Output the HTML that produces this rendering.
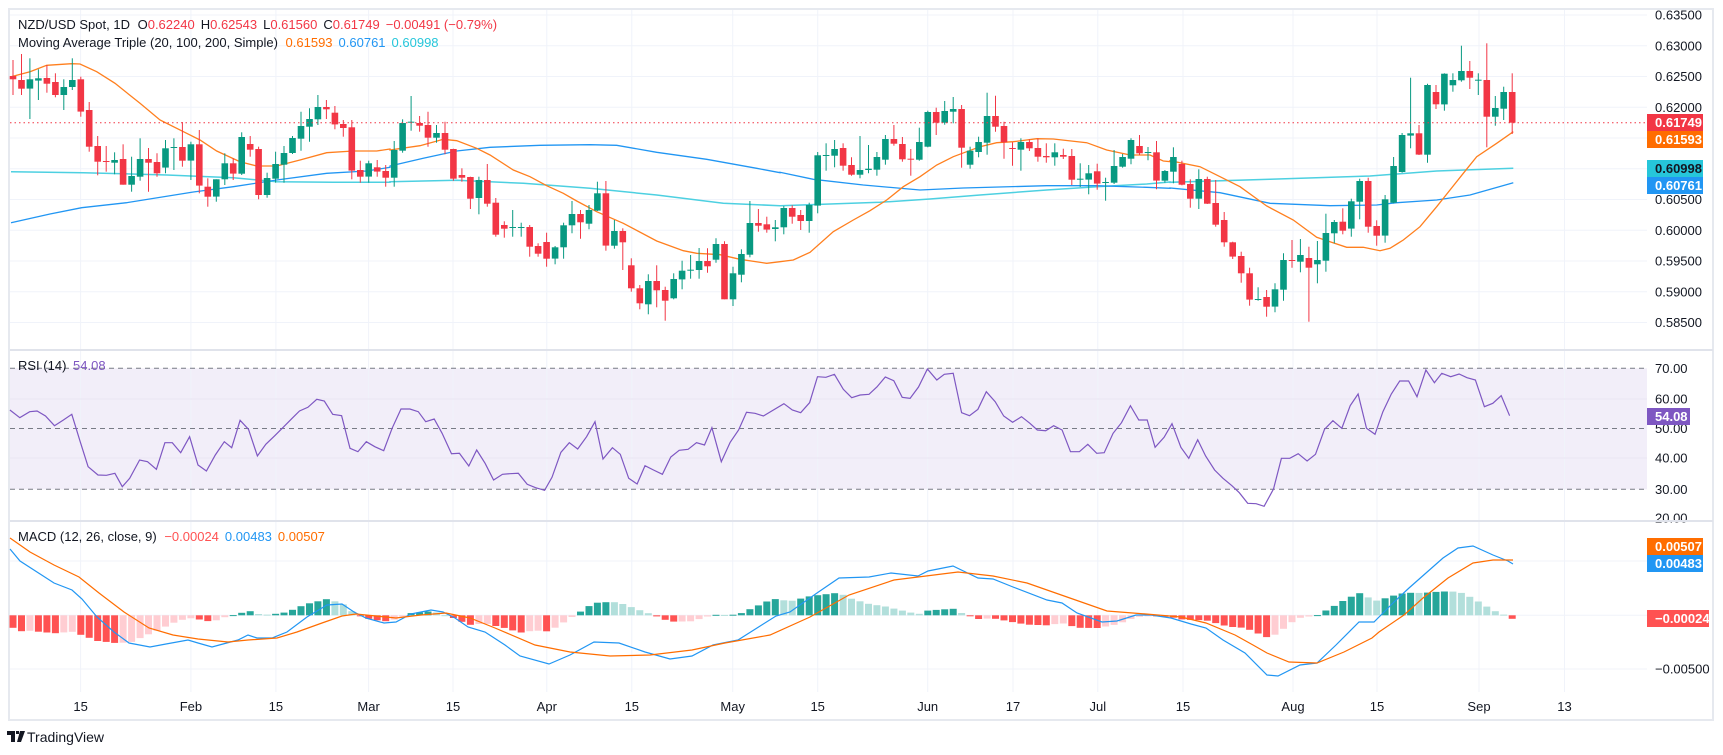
<!DOCTYPE html>
<html><head><meta charset="utf-8"><style>
html,body{margin:0;padding:0;background:#fff;width:1723px;height:755px;overflow:hidden}
svg{display:block;font-family:"Liberation Sans",sans-serif}
</style></head><body>
<svg id="s" width="1723" height="755" viewBox="0 0 1723 755" xmlns="http://www.w3.org/2000/svg"></svg>
<script>
var S=document.getElementById('s'),out=[];
function P(s){out.push(s);}
function X(i){return 13+8.47*i;}
function ZY(z){return 40+z/3;}
// frame
P('<rect x="9" y="9" width="1704" height="711" fill="#fff" stroke="#e6e9ef" stroke-width="2"/>');
// RSI band
P('<rect x="10" y="368.3" width="1637" height="121" fill="rgba(126,87,194,0.1)"/>');
// grids
var vg=[80.6,190.9,275.9,368.6,453,546.8,631.8,732.7,817.7,927.7,1013,1097.8,1183,1293,1377,1479,1564.5];
vg.forEach(function(x){P('<line x1="'+x+'" y1="10" x2="'+x+'" y2="692" stroke="#f0f3fa"/>');});
var pl=['0.63500','0.63000','0.62500','0.62000','0.61500','0.61000','0.60500','0.60000','0.59500','0.59000','0.58500'];
pl.forEach(function(t,k){var y=15+k*30.75;P('<line x1="10" y1="'+y+'" x2="1647" y2="'+y+'" stroke="#f0f3fa"/>');
 if(k!=4&&k!=5)P('<text x="1655" y="'+(y+4.5)+'" font-size="13" fill="#131722">'+t+'</text>');});
[399,458].forEach(function(y){P('<line x1="10" y1="'+y+'" x2="1647" y2="'+y+'" stroke="#e9e5f3"/>');});
[[368.3,'70.00'],[399,'60.00'],[428.5,'50.00'],[458,'40.00'],[489.3,'30.00'],[518,'20.00']].forEach(function(a){P('<text x="1655" y="'+(a[0]+4.5)+'" font-size="13" fill="#131722">'+a[1]+'</text>');});
[368.3,428.5,489.3].forEach(function(y){P('<line x1="10" y1="'+y+'" x2="1647" y2="'+y+'" stroke="#787b86" stroke-dasharray="5,4"/>');});
[561,615.3,669].forEach(function(y){P('<line x1="10" y1="'+y+'" x2="1647" y2="'+y+'" stroke="#f0f3fa"/>');});
P('<text x="1655" y="673.5" font-size="13" fill="#131722">−0.00500</text>');
// separators
P('<rect x="10" y="349" width="1703" height="2" fill="#e0e3eb"/><rect x="10" y="520" width="1703" height="2" fill="#e0e3eb"/>');
// time labels
var tl=['15','Feb','15','Mar','15','Apr','15','May','15','Jun','17','Jul','15','Aug','15','Sep','13'];
tl.forEach(function(t,k){P('<text x="'+vg[k]+'" y="711" font-size="13" fill="#131722" text-anchor="middle">'+t+'</text>');});
// MAs
function ml(segs,col,w){var pts=[];segs.forEach(function(sg){var off=sg[0];sg[1].forEach(function(p){var x=off+p[0]/3;if(x>=10)pts.push(x.toFixed(1)+','+ZY(p[1]).toFixed(1));});});
 P('<polyline points="'+pts.join(' ')+'" fill="none" stroke="'+col+'" stroke-width="'+w+'"/>');}
ml([[0,[[33,395],[250,398],[500,405],[700,413],[830,425],[1000,427],[1170,427]]],[390,[[0,425],[200,421],[400,430],[600,445],[800,465],[1000,490],[1170,497]]],[780,[[0,497],[150,492],[300,487],[450,477],[600,465],[800,450],[950,440],[1100,432],[1170,426]]],[1170,[[0,427],[300,418],[600,408],[800,393],[1030,385]]]],'#4dd0e1',1.5);
ml([[0,[[33,548],[150,522],[245,503],[380,488],[580,456],[700,440],[830,420],[980,400],[1100,393],[1170,382]]],[390,[[0,378],[100,355],[200,333],[300,322],[450,316],[600,314],[680,316],[800,337],[950,358],[1100,385],[1170,398]]],[780,[[0,397],[100,418],[250,435],[420,450],[550,444],[800,437],[950,437],[1100,442],[1170,445]]],[1170,[[0,444],[150,458],[300,490],[480,497],[620,495],[680,488],[800,480],[900,465],[1030,428]]]],'#2196f3',1.3);
ml([[0,[[33,110],[90,95],[140,76],[215,71],[240,72],[290,95],[345,130],[420,190],[480,240],[560,280],[600,300],[650,333],[720,365],[770,378],[830,378],[900,360],[980,338],[1060,333],[1130,333],[1170,327]]],[390,[[0,330],[90,317],[160,298],[200,302],[260,325],[300,345],[370,390],[420,410],[470,437],[520,460],[560,483],[620,515],[700,550],[800,603],[880,632],[920,640],[990,644],[1050,658],[1130,670],[1170,665]]],[780,[[0,665],[40,660],[90,637],[160,575],[220,540],[270,512],[320,480],[370,440],[420,410],[470,375],[520,350],[560,335],[600,320],[650,308],[700,305],[770,296],[820,297],[920,308],[980,330],[1050,345],[1110,345],[1150,363],[1170,365]]],[1170,[[0,362],[90,380],[160,415],[210,440],[290,498],[370,540],[440,592],[480,605],[530,622],[580,622],[630,632],[660,625],[700,600],[750,560],[800,500],[840,450],[880,400],[920,350],[980,310],[1030,275]]]],'#ff7f1e',1.3);
// candles
var C=[[108,118,60,165],[120,146,42,165],[146,118,55,237],[122,115,88,180],[114,131,75,158],[126,165,100,172],[165,141,118,210],[141,120,55,150],[118,215,110,230],[210,320,186,335],
[318,365,288,406],[363,366,318,395],[368,360,337,403],[357,434,313,434],[434,408,350,455],[410,357,295,422],[357,368,324,455],[366,400,340,410],[383,325,300,400],[323,321,295,390],
[321,362,246,380],[362,313,305,420],[313,437,270,460],[440,470,415,500],[470,418,418,485],[418,370,340,435],[370,401,355,420],[401,291,277,405],[312,329,288,350],[327,465,320,478],
[465,414,398,473],[416,372,335,428],[374,339,318,428],[339,294,288,342],[296,258,215,332],[260,237,205,305],[238,201,165,255],[201,208,180,237],[218,253,198,268],[252,264,240,290],
[262,392,240,418],[390,410,362,428],[410,370,362,428],[382,395,360,410],[393,413,375,440],[413,330,303,440],
[332,249,238,338],[247,245,168,272],[249,257,228,275],[255,293,215,320],[293,279,255,308],[279,329,245,343],[327,416,326,422],[405,413,385,425],[411,476,410,507],[474,420,410,523],
[420,491,372,500],[488,584,474,590],[555,566,544,593],[563,561,510,590],[563,561,548,590],[561,620,555,650],[618,641,610,650],[606,656,578,680],[656,622,618,673],[622,556,548,656],
[556,522,483,580],[522,547,510,596],[551,510,495,568],[512,460,425,513],[460,617,423,632],[617,573,540,626],[573,607,565,690],[676,745,655,755],[745,790,735,808],[793,723,703,823],
[723,751,676,802],[750,782,740,842],[775,717,700,778],[718,692,662,748],[692,689,645,716],[690,663,624,716],[663,679,625,698],[659,612,595,668],[612,778,604,778],[778,700,680,798],
[704,642,628,727],[644,549,483,652],[549,557,507,575],[553,569,530,578],[567,562,540,604],[562,504,498,583],
[504,530,496,551],[525,543,510,570],[543,495,488,578],[497,346,336,520],[347,345,310,392],[347,327,300,382],[324,377,310,392],[375,404,352,407],[404,390,288,415],[390,386,315,400],
[389,351,336,407],[359,297,285,374],[297,311,255,317],[312,358,291,365],[356,358,327,407],[359,306,263,362],[320,216,212,322],[216,248,203,285],[248,213,183,254],[215,207,171,250],
[207,323,195,383],[374,332,320,386],[336,306,290,352],[308,228,158,344],[228,260,167,275],[258,307,245,356],[324,326,307,377],[329,306,295,392],[306,325,298,333],[324,350,295,365],
[348,352,310,368],[352,337,310,377],[345,350,326,357],[348,419,327,435],[418,416,370,441],[419,400,375,463],[394,431,371,449],[428,426,413,482],[428,378,330,432],[380,351,342,383],
[356,300,295,373],[318,340,285,345],[338,336,321,361],[337,422,303,448],[422,393,390,428],[395,351,322,430],
[372,434,362,436],[432,476,418,503],[476,417,388,507],[417,491,410,492],[489,554,420,560],[540,607,516,620],[607,650,605,657],[648,700,635,728],[700,779,683,797],[779,777,742,782],
[771,800,750,830],[800,748,730,817],[749,660,640,782],[660,662,600,683],[665,645,597,697],[654,683,620,845],[673,660,603,730],[662,579,521,695],[580,546,540,610],[545,572,505,583],
[566,484,476,590],[485,423,416,538],[423,560,413,578],[558,587,541,617],[587,478,465,608],[488,378,351,490],[396,285,279,398],[287,280,113,325],[280,344,255,345],[344,135,131,368],
[156,193,135,207],[193,101,100,212],[136,120,100,155],[121,93,17,125],[93,113,63,147],[121,119,100,165],[120,230,10,322],[230,204,168,257],[206,156,140,240],[156,248,100,282]];
C.forEach(function(c,i){var x=X(i),col=c[1]<c[0]?'#089981':'#f23645';
 var t=ZY(Math.min(c[0],c[1])),b=ZY(Math.max(c[0],c[1]));if(b-t<1)b=t+1;
 P('<line x1="'+x.toFixed(1)+'" y1="'+ZY(c[2]).toFixed(1)+'" x2="'+x.toFixed(1)+'" y2="'+ZY(c[3]).toFixed(1)+'" stroke="'+col+'" stroke-width="1"/>');
 P('<rect x="'+(x-3.3).toFixed(1)+'" y="'+t.toFixed(1)+'" width="6.6" height="'+(b-t).toFixed(1)+'" fill="'+col+'"/>');});
P('<line x1="10" y1="122.7" x2="1647" y2="122.7" stroke="#f23645" stroke-dasharray="1.5,3"/>');
// RSI
var R1=[[20,195],[40,218],[60,200],[75,198],[92,213],[110,242],[128,225],[145,208],[162,290],[178,365],[198,390],[215,391],[232,385],[247,425],[262,400],[282,345],[298,350],[316,373],[333,293],[348,293],[365,323],[383,275],[400,360],[417,378],[435,330],[453,290],[468,308],[485,226],[502,253],[520,333],[537,298],[555,272],[572,247],[590,220],[605,198],[622,187],[640,163],[655,168],[672,208],[690,212],[707,310],[723,320],[740,290],[757,305],[775,317],[792,250],[810,192],[828,192],[845,200],[860,230],[877,222],[893,265],[912,326],[928,325],[947,363],[963,315],[980,355],[997,405],[1015,388],[1030,386],[1047,385],[1065,418],[1082,428],[1100,436],[1115,397],[1133,322],[1150,293],[1167,312],[1185,275],[1202,230],[1218,342],[1237,308],[1253,328],[1270,400],[1287,417],[1303,362],[1320,375],[1338,388],[1355,336],[1372,316],[1390,313],[1407,293],[1423,300],[1438,248],[1457,350],[1475,292],[1492,255],[1508,202],[1525,205],[1542,213]];
var R2=[[28,176],[45,195],[62,203],[80,173],[96,95],[113,97],[130,88],[148,133],[165,158],[182,150],[200,148],[216,126],[233,96],[250,107],[267,157],[283,160],[300,126],[318,72],[337,105],[352,88],[370,85],[387,203],[403,212],[420,193],[437,140],[455,170],[472,213],[490,232],[508,215],[525,235],[540,255],[557,257],[573,242],[590,255],[607,320],[625,320],[642,298],[660,325],[675,323],[693,265],[710,233],[728,182],[745,225],[762,225],[778,307],[796,277],[812,236],[830,307],[846,340],[864,284],[880,333],[898,375],[915,400],[933,422],[948,443],[965,475],[982,476],[998,484],[1017,432],[1033,340],[1050,340],[1067,326],[1085,348],[1102,328],[1120,253],[1137,227],[1155,250],[1172,182],[1188,147],[1205,250],[1222,268],[1238,200],[1255,147],[1272,108],[1290,108],[1307,155],[1325,75],[1342,113],[1357,85],[1375,95],[1392,87],[1408,98],[1425,105],[1443,185],[1460,175],[1477,152],[1494,212]];
var rp=[];R1.forEach(function(p){rp.push((p[0]/2.02).toFixed(1)+','+(345+p[1]/3).toFixed(1));});
R2.forEach(function(p){rp.push((770+p[0]/2.02).toFixed(1)+','+(345+p[1]/3).toFixed(1));});
P('<polyline points="'+rp.join(' ')+'" fill="none" stroke="#7e57c2" stroke-width="1.2"/>');
// MACD
var B=[[10,549],[20,561],[37,572],[54,583],[72,590],[82,599],[97,617],[114,632],[129,643],[150,647],[166,644],[188,640],[198,643],[212,647],[223,644],[238,640],[248,635],[257,638],[272,638],[287,632],[307,617],[327,605],[342,604],[354,612],[366,618],[384,623],[396,622],[411,614],[431,610],[443,612],[455,618],[468,627],[485,632],[505,645],[520,656],[549,664],[570,655],[594,642],[619,643],[645,652],[670,659],[692,656],[713,645],[738,640],[757,628],[776,616],[790,612],[817,593],[839,578],[869,577],[891,573],[918,576],[928,571],[953,566],[978,578],[993,579],[1013,587],[1047,600],[1062,603],[1077,613],[1102,622],[1117,621],[1136,615],[1151,615],[1171,618],[1191,624],[1206,628],[1223,640],[1245,653],[1267,675],[1278,676],[1300,665],[1317,663],[1336,645],[1359,622],[1374,622],[1394,602],[1409,588],[1426,573],[1443,558],[1458,548],[1473,546],[1493,555],[1508,561],[1513,564]];
var O=[[10,538],[30,552],[54,565],[79,577],[99,593],[124,612],[149,628],[173,635],[198,639],[228,642],[248,640],[277,638],[297,632],[322,623],[342,616],[356,614],[376,616],[396,618],[421,615],[446,613],[470,618],[495,628],[535,645],[570,652],[610,656],[650,655],[692,650],[725,643],[770,635],[810,617],[849,595],[894,580],[918,577],[958,572],[993,576],[1027,583],[1067,597],[1107,611],[1146,614],[1181,617],[1206,623],[1235,635],[1253,645],[1267,653],[1289,662],[1317,663],[1344,652],[1372,638],[1379,632],[1404,615],[1423,598],[1448,578],[1473,563],[1493,560],[1513,560]];
function itp(A,x){if(x<=A[0][0])return A[0][1];for(var k=1;k<A.length;k++){if(x<=A[k][0]){var a=A[k-1],b=A[k];return a[1]+(b[1]-a[1])*(x-a[0])/(b[0]-a[0]);}}return A[A.length-1][1];}
var prev=null;
for(var i=0;i<178;i++){var x=X(i);var h=itp(O,x)-itp(B,x);// positive = macd above signal (pixels)
 var col;if(h>=0)col=(prev!==null&&h<prev)?'#b2dfdb':'#26a69a';else col=(prev!==null&&h>prev)?'#ffcdd2':'#ff5252';
 prev=h;var y0=615.3,y1=615.3-h;var t=Math.min(y0,y1),hh=Math.max(Math.abs(h),1);
 P('<rect x="'+(x-3.5).toFixed(1)+'" y="'+t.toFixed(1)+'" width="7" height="'+hh.toFixed(1)+'" fill="'+col+'"/>');}
function pts(A){return A.map(function(p){return p[0]+','+p[1];}).join(' ');}
P('<polyline points="'+pts(B)+'" fill="none" stroke="#2196f3" stroke-width="1.2"/>');
P('<polyline points="'+pts(O)+'" fill="none" stroke="#ff6d00" stroke-width="1.2"/>');
// legends
P('<text x="18" y="29" font-size="13" fill="#131722">NZD/USD Spot, 1D <tspan dx="4">O</tspan><tspan fill="#f23645">0.62240</tspan><tspan dx="6">H</tspan><tspan fill="#f23645">0.62543</tspan><tspan dx="6">L</tspan><tspan fill="#f23645">0.61560</tspan><tspan dx="6">C</tspan><tspan fill="#f23645">0.61749</tspan><tspan dx="6" fill="#f23645">−0.00491 (−0.79%)</tspan></text>');
P('<text x="18" y="47" font-size="13" fill="#131722">Moving Average Triple (20, 100, 200, Simple) <tspan dx="4" fill="#ff6d00">0.61593</tspan><tspan dx="6" fill="#2196f3">0.60761</tspan><tspan dx="6" fill="#26c6da">0.60998</tspan></text>');
P('<text x="18" y="370" font-size="13" fill="#131722">RSI (14) <tspan dx="3" fill="#7e57c2">54.08</tspan></text>');
P('<text x="18" y="541" font-size="13" fill="#131722">MACD (12, 26, close, 9) <tspan dx="4" fill="#ff5252">−0.00024</tspan><tspan dx="6" fill="#2196f3">0.00483</tspan><tspan dx="6" fill="#ff6d00">0.00507</tspan></text>');
// tags
function tag(y,h,w,bg,fg,t){P('<rect x="1647" y="'+y+'" width="'+w+'" height="'+h+'" fill="'+bg+'"/><text x="1655" y="'+(y+h/2+4.5)+'" font-size="13" font-weight="bold" fill="'+fg+'">'+t+'</text>');}
tag(114,17,56,'#f23645','#fff','0.61749');
tag(131,17,56,'#ff6d00','#fff','0.61593');
tag(160,17,56,'#26c6da','#131722','0.60998');
tag(177,17,56,'#2196f3','#fff','0.60761');
tag(408,17,43,'#7e57c2','#fff','54.08');
tag(538,17,56,'#ff6d00','#fff','0.00507');
tag(555,17,56,'#2196f3','#fff','0.00483');
tag(610,17,62,'#ff5252','#fff','−0.00024');
// logo
P('<path d="M7 731h8v11h-4v-7h-4z M16 731h3v3h-3z M20 731h5l-4 11h-4z" fill="#131722"/>');
P('<text x="27" y="742" font-size="14" fill="#131722">TradingView</text>');
S.innerHTML=out.join('');
</script>
</body></html>
